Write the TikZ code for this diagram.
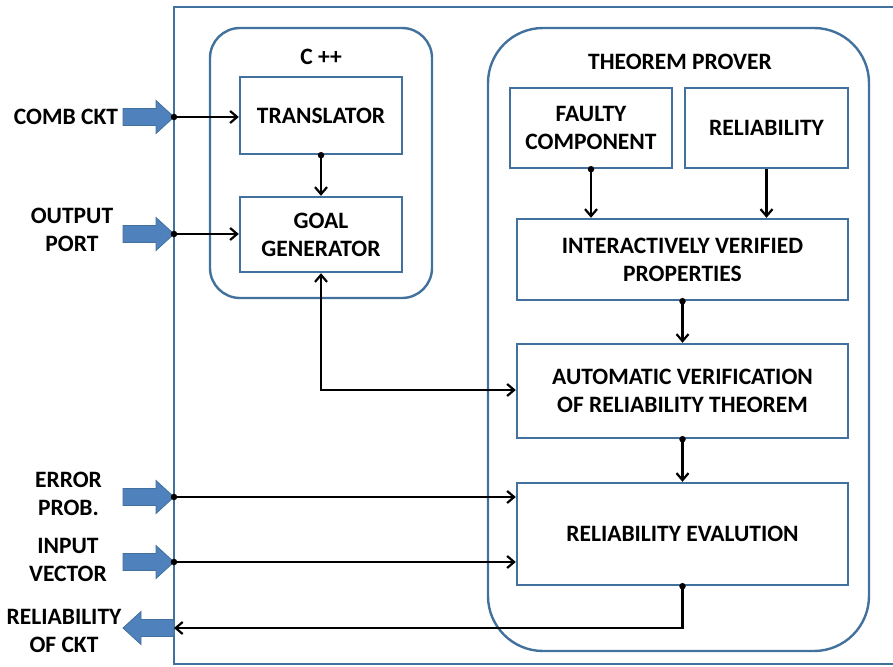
\documentclass[tikz,border=0pt]{standalone}
\usepackage{fontspec}
\setmainfont{Carlito}
\usetikzlibrary{arrows.meta,shapes.arrows}
\definecolor{boxblue}{HTML}{41719C}
\definecolor{fillblue}{HTML}{4F81BD}
\tikzset{
  >={Straight Barb[length=7pt,width=12pt,line width=2.2pt]},
  blk/.style={draw=boxblue,line width=2.4pt,rectangle,inner sep=2pt,align=center,font=\bfseries\fontsize{23.5}{28}\selectfont},
  cont/.style={draw=boxblue,line width=2.4pt,rectangle},
  lbl/.style={align=center,font=\bfseries\fontsize{23.5}{28}\selectfont,inner sep=0pt},
  conn/.style={line width=2.3pt,->},
  dot/.style={circle,fill=black,inner sep=0pt,minimum size=6.5pt},
  bigarrow/.style={fill=fillblue,draw=boxblue,line width=0.8pt}
}
\begin{document}
\begin{tikzpicture}[x=1pt,y=-1pt]
\useasboundingbox (0,0) rectangle (893,666);
\clip (0,0) rectangle (893,666);
% outer box
\draw[boxblue,line width=2.6pt] (174,7) rectangle (910,664);
% containers
\node[cont,rounded corners=30pt,minimum width=222pt,minimum height=270pt] (cpp) at (321,163) {};
\node[lbl] (cpplbl) at (321,57) {C ++};
\node[cont,rounded corners=55pt,minimum width=381pt,minimum height=623pt] (tp) at (678.5,339.5) {};
\node[lbl] (tplbl) at (680,62) {THEOREM PROVER};
% blocks
\node[blk,minimum width=162pt,minimum height=77pt] (tr) at (321,115.5) {TRANSLATOR};
\node[blk,minimum width=162pt,minimum height=75pt] (gg) at (321,234.5) {GOAL\\GENERATOR};
\node[blk,minimum width=162pt,minimum height=80pt] (fc) at (591,128) {FAULTY\\COMPONENT};
\node[blk,minimum width=163pt,minimum height=80pt] (rel) at (766.5,128) {RELIABILITY};
\node[blk,minimum width=331pt,minimum height=81pt] (ivp) at (682.5,259.5) {INTERACTIVELY VERIFIED\\PROPERTIES};
\node[blk,minimum width=331pt,minimum height=94pt] (av) at (682.5,391) {AUTOMATIC VERIFICATION\\OF RELIABILITY THEOREM};
\node[blk,minimum width=331pt,minimum height=102pt] (re) at (682.5,534) {RELIABILITY EVALUTION};
% external labels
\node[lbl] (l1) at (66,117) {COMB CKT};
\node[lbl] (l2) at (72,230) {OUTPUT\\PORT};
\node[lbl] (l3) at (68.5,494) {ERROR\\PROB.};
\node[lbl] (l4) at (68,560) {INPUT\\VECTOR};
\node[lbl] (l5) at (64,631) {RELIABILITY\\OF CKT};
% block arrows
\foreach \yy/\nm in {117/a1,234/a2,497/a3,562/a4}{
  \draw[bigarrow] (123,\yy-8.5) -- (156,\yy-8.5) -- (156,\yy-16.5) -- (174,\yy) -- (156,\yy+16.5) -- (156,\yy+8.5) -- (123,\yy+8.5) -- cycle;
  \coordinate (\nm) at (174,\yy);
}
\draw[bigarrow] (174,628-8.5) -- (141,628-8.5) -- (141,628-16.5) -- (123,628) -- (141,628+16.5) -- (141,628+8.5) -- (174,628+8.5) -- cycle;
\coordinate (a5) at (174,628);
% connectors
\node[dot] (d1) at (a1) {};
\node[dot] (d2) at (a2) {};
\node[dot] (d3) at (a3) {};
\node[dot] (d4) at (a4) {};
\draw[conn] (d1.center) -- (tr.west |- d1);
\draw[conn] (d2.center) -- (gg.west |- d2);
\draw[conn] (d3.center) -- (re.west |- d3);
\draw[conn] (d4.center) -- (re.west |- d4);
\node[dot] (dt) at (tr.south) {};
\draw[conn] (dt.center) -- (gg.north);
\node[dot] (dfc) at (fc.south) {};
\draw[conn] (dfc.center) -- (ivp.north -| dfc);
\draw[conn] (rel.south) -- (ivp.north -| rel);
\node[dot] (div) at (ivp.south) {};
\draw[conn] (div.center) -- (av.north);
\node[dot] (dav) at (av.south) {};
\draw[conn] (dav.center) -- (re.north);
\coordinate (gc) at (321,390);
\draw[line width=2.3pt,<->] (gg.south) -- (gc) -- (av.west |- gc);
\node[dot] (dre) at (re.south) {};
\coordinate (rc) at (682.5,628);
\draw[conn] (dre.center) -- (rc) -- (a5);
\end{tikzpicture}
\end{document}
